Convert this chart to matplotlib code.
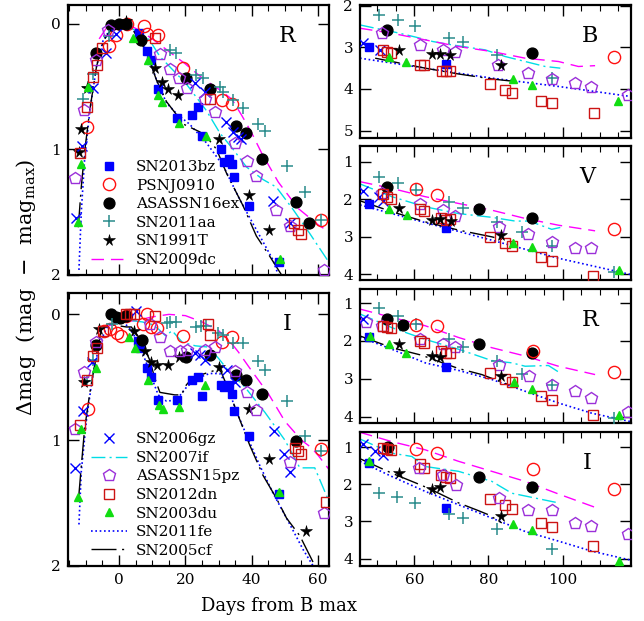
import matplotlib
matplotlib.use("Agg")
import matplotlib.pyplot as plt
from matplotlib.lines import Line2D
from matplotlib.ticker import MultipleLocator, NullLocator

plt.rcParams['font.family'] = ['DejaVu Serif']
plt.rcParams['mathtext.fontset'] = 'dejavuserif'

# ---------------- data: (days from B max, delta mag) ----------------
# left column, R band
R_early = {
    "SN2013bz": ([5.9, 8.4, 9.5, 11.8, 17.5, 22.0, 23.7, 25.1, 30.8, 31.7, 33.2, 34.1, 34.8, 39.3, 48.2],
                 [0.07, 0.22, 0.29, 0.52, 0.75, 0.73, 0.66, 0.89, 1.00, 1.10, 1.08, 1.12, 1.22, 1.45, 1.90]),
    "PSNJ0910": ([-9.6, -3.0, -0.8, 2.3, 7.6, 8.4, 11.7, 19.2, 30.9, 33.9, 61.0],
                 [0.82, 0.18, 0.09, 0.0, 0.02, 0.08, 0.09, 0.35, 0.61, 0.64, 1.56]),
    "ASASSN16ex": ([-7.1, -2.5, -0.1, 2.2, 6.7, 20.1, 27.5, 35.4, 38.4, 43.2, 53.3, 57.3],
                   [0.23, 0.01, 0.0, 0.0, 0.13, 0.43, 0.52, 0.81, 0.87, 1.08, 1.42, 1.59]),
    "SN2011aa": ([-11.0, -9.3, -8.0, -3.0, 15.3, 17.3, 23.3, 25.3, 30.4, 31.3, 34.4, 37.4, 41.9, 43.9, 50.7, 56.0, 61.0],
                 [0.60, 0.50, 0.40, 0.10, 0.21, 0.23, 0.41, 0.43, 0.50, 0.54, 0.61, 0.67, 0.80, 0.85, 1.13, 1.34, 1.56]),
    "SN1991T": ([-12.2, -11.5, -9.6, 2.0, 10.8, 13.0, 14.8, 17.8, 30.2, 39.2, 45.1],
                [1.02, 0.84, 0.51, -0.02, 0.35, 0.46, 0.52, 0.57, 0.92, 1.36, 1.64]),
    "SN2009dc": ([-6, -4, -2, 0, 3, 6, 10, 15, 20, 25, 30, 34, 37, 40, 43, 48, 54, 60, 63.5],
                 [0.12, 0.04, 0.01, 0.0, 0.01, 0.05, 0.12, 0.22, 0.32, 0.43, 0.52, 0.60, 0.73, 0.87, 1.03, 1.26, 1.47, 1.60, 1.66]),
    "SN2006gz": ([-13.1, -11.2, -8.0, -4.0, -1.0, 22.8, 25.8, 32.3, 34.4, 35.9, 36.9, 46.5, 51.4],
                 [1.55, 0.97, 0.51, 0.23, 0.08, 0.47, 0.54, 0.78, 0.86, 0.90, 0.92, 1.41, 1.59]),
    "SN2007if": ([4.0, 6.2, 9.2, 12.3, 20.3, 26.3, 30.4, 34.4, 38.4, 43.4, 47.4, 52.5, 57.5, 63.3],
                 [0.04, 0.07, 0.13, 0.26, 0.48, 0.69, 0.87, 1.00, 1.14, 1.24, 1.30, 1.48, 1.67, 1.90]),
    "ASASSN15pz": ([-13.4, -10.6, -7.0, -3.3, 12.3, 15.3, 18.0, 20.5, 26.0, 28.8, 35.1, 38.7, 41.4, 47.4, 51.5, 61.8],
                   [1.23, 0.69, 0.29, 0.05, 0.24, 0.36, 0.43, 0.51, 0.60, 0.70, 0.95, 1.09, 1.21, 1.48, 1.61, 1.96]),
    "SN2012dn": ([-11.7, -9.8, -7.8, -6.8, -5.1, 10.8, 27.3, 52.8, 53.8, 54.8],
                 [1.03, 0.66, 0.42, 0.33, 0.19, 0.11, 0.60, 1.59, 1.64, 1.67]),
    "SN2003du": ([-12.4, -11.4, -9.3, 4.2, 8.7, 11.8, 12.8, 18.1, 26.3, 48.4],
                 [1.58, 1.12, 0.50, 0.11, 0.29, 0.57, 0.62, 0.79, 0.89, 1.87]),
    "SN2011fe": ([-12.1, -11.4, -10.4, -8.8, -6.8, -4.8, -1.8, 1.2, 4.2, 8.2, 11.3, 14.3, 17.5, 21.3, 26.4, 31.4, 36.4, 41.4, 46.4, 48.0],
                 [1.96, 1.50, 1.08, 0.69, 0.34, 0.13, 0.01, 0.0, 0.04, 0.20, 0.45, 0.63, 0.72, 0.80, 0.95, 1.13, 1.40, 1.64, 1.88, 2.0]),
    "SN2005cf": ([-12.3, -11.4, -10.4, -8.8, -6.8, -4.8, -1.8, 1.2, 4.2, 8.2, 11.3, 14.3, 17.8, 19.5, 24.3, 26.4, 29.4, 32.4, 37.4, 41.4, 45.4, 49.0],
                 [1.62, 1.30, 1.02, 0.68, 0.34, 0.14, 0.02, 0.0, 0.05, 0.22, 0.45, 0.62, 0.74, 0.80, 0.86, 0.90, 1.00, 1.19, 1.45, 1.69, 1.85, 2.0]),
}

# left column, I band
I_early = {
    "SN2013bz": ([5.7, 6.2, 8.4, 9.5, 11.8, 17.5, 22.0, 23.7, 25.1, 30.8, 31.7, 33.2, 34.1, 34.8, 39.3, 48.2],
                 [0.21, 0.27, 0.43, 0.50, 0.68, 0.68, 0.52, 0.50, 0.65, 0.56, 0.58, 0.56, 0.63, 0.77, 0.97, 1.43]),
    "PSNJ0910": ([-9.5, -4.5, -2.8, -0.6, 0.5, 2.2, 7.2, 8.4, 9.6, 11.5, 19.2, 30.9, 33.9, 61.0],
                 [0.75, 0.13, 0.12, 0.15, 0.17, 0.01, 0.08, 0.0, 0.10, 0.11, 0.17, 0.22, 0.18, 1.07]),
    "ASASSN16ex": ([-7.1, -2.5, -0.8, 0.4, 2.2, 7.0, 20.1, 27.5, 35.4, 38.4, 43.2, 53.3],
                   [0.24, 0.0, 0.02, 0.03, 0.01, 0.20, 0.34, 0.32, 0.48, 0.52, 0.63, 1.01]),
    "SN2011aa": ([-9.8, -8.0, -2.0, 14.3, 15.3, 17.3, 23.3, 24.8, 26.3, 29.9, 31.4, 34.4, 37.4, 41.9, 43.9, 50.7, 56.0, 61.0],
                 [0.53, 0.36, 0.08, 0.07, 0.06, 0.06, 0.10, 0.09, 0.09, 0.15, 0.16, 0.23, 0.23, 0.37, 0.44, 0.69, 0.97, 1.09]),
    "SN1991T": ([-10.6, -6.0, 4.5, 7.7, 9.7, 11.3, 14.8, 18.0, 30.2, 39.2, 45.1, 56.3],
                [0.54, 0.12, 0.13, 0.29, 0.38, 0.40, 0.40, 0.34, 0.42, 0.75, 1.15, 1.72]),
    "SN2009dc": ([-4, 0, 5, 10, 15, 20, 25, 30, 33, 36, 40, 45, 50, 55, 58, 60, 63.5],
                 [0.10, 0.06, 0.05, 0.02, 0.0, 0.01, 0.06, 0.13, 0.20, 0.30, 0.45, 0.63, 0.85, 1.00, 1.06, 1.12, 1.24]),
    "SN2006gz": ([-13.4, -10.9, -8.3, 5.2, 22.8, 24.3, 25.8, 32.4, 35.1, 46.7, 49.6, 51.5],
                 [1.22, 0.77, 0.38, -0.03, 0.31, 0.32, 0.36, 0.44, 0.54, 0.93, 1.11, 1.25]),
    "SN2007if": ([4, 7, 10, 12, 14, 16, 19, 23, 27, 30, 33, 38, 44, 50, 54.5, 59, 63.5],
                 [0.05, 0.06, 0.08, 0.12, 0.17, 0.13, 0.22, 0.25, 0.26, 0.35, 0.45, 0.58, 0.78, 1.00, 1.22, 1.22, 1.50]),
    "ASASSN15pz": ([-13.4, -10.7, -7.0, 9.2, 12.3, 15.3, 18.3, 20.5, 26.0, 28.8, 35.1, 38.7, 41.4, 51.5, 61.8],
                   [0.91, 0.46, 0.22, 0.08, 0.18, 0.29, 0.29, 0.28, 0.28, 0.26, 0.45, 0.62, 0.76, 1.17, 1.58]),
    "SN2012dn": ([-11.7, -9.6, -7.8, -6.8, -4.8, 2.0, 3.2, 4.4, 10.8, 26.8, 27.3, 53.0, 54.0, 55.0, 62.5],
                 [0.88, 0.52, 0.33, 0.27, 0.13, 0.0, 0.0, 0.0, 0.01, 0.08, 0.16, 1.06, 1.09, 1.11, 1.49]),
    "SN2003du": ([-12.4, -11.4, -7.0, 2.9, 4.7, 8.7, 12.0, 13.1, 18.0, 26.0, 48.1],
                 [1.45, 0.91, 0.43, 0.18, 0.27, 0.52, 0.72, 0.75, 0.74, 0.56, 1.41]),
    "SN2011fe": ([-12.1, -11.4, -9.8, -7.8, -5.8, -3.8, -1.3, 1.2, 3.2, 6.2, 9.2, 11.8, 14.3, 17.3, 20.3, 23.3, 27.3, 30.4,
                  32.4, 35.4, 38.4, 42.4, 46.4, 50.5, 55.5, 58.5],
                 [1.67, 1.25, 0.83, 0.46, 0.23, 0.11, 0.03, 0.06, 0.11, 0.24, 0.46, 0.64, 0.69, 0.68, 0.58, 0.51, 0.47, 0.47,
                  0.56, 0.77, 0.96, 1.20, 1.42, 1.62, 1.87, 2.0]),
    "SN2005cf": ([-12.2, -11.4, -10.4, -8.8, -6.8, -5.3, -2.8, 2.2, 3.7, 6.2, 9.2, 10.8, 12.3, 16.8, 18.8, 20.3, 22.3, 28.3,
                  29.8, 30.8, 32.4, 35.4, 39.4, 43.4, 47.4, 50.5, 54.5, 58.5],
                 [1.46, 1.21, 0.91, 0.62, 0.32, 0.12, 0.08, 0.10, 0.10, 0.19, 0.36, 0.51, 0.62, 0.64, 0.64, 0.56, 0.50, 0.45,
                  0.43, 0.46, 0.56, 0.77, 1.04, 1.28, 1.46, 1.62, 1.76, 1.97]),
}

# right column, late phases
B_late = {
    "SN2011aa": ([50.3, 55.5, 60.2, 69.4, 73.2, 82.3, 97.1], [2.22, 2.34, 2.48, 2.78, 2.87, 3.19, 3.74]),
    "ASASSN16ex": ([52.7, 91.7], [2.59, 3.14]),
    "SN2007if": ([45.3, 50.0, 55.0, 60.2, 65.0, 70.1, 79.1, 84.5, 89.9, 95.3, 99.4],
                 [2.46, 2.55, 2.64, 2.75, 2.86, 2.94, 3.06, 3.22, 3.34, 3.46, 3.50]),
    "SN2009dc": ([45.3, 53.9, 62.9, 71.9, 80.9, 89.9, 98.9, 104.3, 108.8],
                 [2.54, 2.66, 2.82, 2.98, 3.10, 3.26, 3.34, 3.46, 3.44]),
    "ASASSN15pz": ([51.2, 61.4, 67.6, 71.0, 82.7, 90.8, 97.1, 103.4, 107.6, 117.6],
                   [2.66, 2.94, 3.06, 3.11, 3.42, 3.62, 3.76, 3.86, 3.96, 4.14]),
    "SN2013bz": ([47.8, 68.5], [2.99, 3.40]),
    "SN2006gz": ([46.2, 50.7], [2.90, 3.07]),
    "SN2012dn": ([51.4, 52.7, 53.6, 61.4, 62.6, 67.4, 68.6, 69.5, 80.5, 84.4, 86.4, 94.3, 97.2, 108.4],
                 [3.07, 3.10, 3.14, 3.42, 3.42, 3.56, 3.58, 3.58, 3.88, 4.02, 4.10, 4.29, 4.34, 4.58]),
    "SN1991T": ([55.9, 64.7, 66.8, 69.6, 83.3], [3.06, 3.16, 3.16, 3.19, 3.42]),
    "SN2003du": ([53.2, 57.7, 86.6, 91.7, 115.1], [3.23, 3.36, 3.76, 3.90, 4.30]),
    "PSNJ0910": ([113.8], [3.23]),
    "SN2011fe": ([45.3, 62.9, 80.9, 98.9, 118.3], [3.26, 3.50, 3.74, 3.94, 4.18]),
    "SN2005cf": ([49.4, 53.9, 62.9, 71.9, 80.9, 87.2], [3.26, 3.34, 3.50, 3.64, 3.76, 3.82]),
}

V_late = {
    "SN2011aa": ([50.3, 55.5, 60.4, 69.4, 73.2, 82.3, 89.0, 97.1, 113.8], [1.40, 1.56, 1.74, 2.06, 2.24, 2.60, 2.86, 3.24, 3.93]),
    "ASASSN16ex": ([52.7, 77.5, 91.7], [1.67, 2.26, 2.51]),
    "PSNJ0910": ([60.4, 66.2, 113.8], [1.73, 1.89, 2.80]),
    "SN2009dc": ([45.3, 53.9, 62.9, 71.9, 80.9, 89.9, 98.9, 108.8], [1.53, 1.71, 1.93, 2.11, 2.29, 2.51, 2.69, 2.84]),
    "SN2007if": ([45.3, 53.9, 62.9, 71.9, 80.9, 87.2, 91.0, 97.1, 99.4], [1.59, 1.93, 2.20, 2.38, 2.48, 2.58, 2.58, 2.80, 2.75]),
    "ASASSN15pz": ([51.2, 61.4, 67.6, 71.0, 82.9, 90.8, 97.1, 103.4, 107.6], [1.84, 2.13, 2.29, 2.45, 2.75, 2.93, 3.13, 3.31, 3.29]),
    "SN2006gz": ([46.2, 50.3, 51.4], [1.77, 1.95, 2.05]),
    "SN2013bz": ([47.8, 68.5], [2.13, 2.77]),
    "SN2012dn": ([51.6, 52.6, 53.6, 61.4, 62.6, 67.3, 68.6, 69.5, 80.5, 84.4, 86.4, 94.3, 97.2, 108.2],
                 [1.87, 1.95, 1.98, 2.27, 2.30, 2.51, 2.54, 2.53, 3.01, 3.16, 3.24, 3.55, 3.64, 4.03]),
    "SN1991T": ([55.9, 64.7, 66.8, 69.8, 83.4], [2.22, 2.54, 2.53, 2.57, 2.95]),
    "SN2003du": ([53.2, 57.9, 86.6, 91.7, 115.3], [2.27, 2.42, 3.16, 3.28, 3.88]),
    "SN2011fe": ([45.3, 62.9, 80.9, 98.9, 118.3], [2.15, 2.62, 3.09, 3.57, 4.00]),
    "SN2005cf": ([45.3, 53.9, 62.9, 71.9, 80.9, 85.0], [2.04, 2.33, 2.60, 2.82, 3.00, 3.10]),
}

R_late = {
    "SN2011aa": ([50.3, 55.5, 60.4, 69.4, 73.2, 82.3, 89.0, 97.1, 113.8], [1.13, 1.35, 1.56, 1.94, 2.15, 2.52, 2.87, 3.17, 4.03]),
    "ASASSN16ex": ([52.7, 56.8, 77.5, 91.7], [1.43, 1.59, 2.09, 2.33]),
    "PSNJ0910": ([60.4, 66.2, 91.9, 113.8], [1.58, 1.60, 2.27, 2.83]),
    "SN2009dc": ([45.3, 53.9, 62.9, 71.9, 80.9, 89.9, 98.9, 108.8], [1.16, 1.38, 1.60, 1.91, 2.18, 2.40, 2.67, 2.89]),
    "SN2007if": ([45.3, 53.9, 62.9, 71.9, 80.9, 86.3, 89.9, 96.2, 98.9], [1.29, 1.65, 1.96, 2.22, 2.52, 2.58, 2.67, 2.65, 2.82]),
    "ASASSN15pz": ([46.8, 51.2, 61.4, 67.6, 71.0, 82.9, 91.0, 97.1, 103.4, 107.6, 117.6],
                   [1.49, 1.60, 1.96, 2.09, 2.16, 2.64, 2.93, 3.17, 3.32, 3.51, 3.89]),
    "SN2006gz": ([46.2], [1.43]),
    "SN2013bz": ([47.8, 68.5], [1.91, 2.69]),
    "SN2012dn": ([51.4, 52.6, 53.6, 61.4, 62.6, 67.3, 68.6, 69.5, 80.5, 84.4, 86.4, 94.3, 97.2, 108.2],
                 [1.60, 1.63, 1.67, 2.00, 2.06, 2.27, 2.31, 2.33, 2.85, 3.00, 3.09, 3.45, 3.56, 3.95]),
    "SN1991T": ([55.9, 64.7, 66.8, 83.4], [2.07, 2.40, 2.43, 2.93]),
    "SN2003du": ([48.0, 53.2, 57.7, 87.0, 91.7, 115.3], [1.87, 2.09, 2.31, 3.09, 3.26, 3.95]),
    "SN2011fe": ([45.3, 53.9, 62.9, 71.9, 80.9, 89.9, 98.9, 107.9, 118.3], [1.90, 2.22, 2.58, 2.78, 3.02, 3.33, 3.64, 3.91, 4.13]),
    "SN2005cf": ([45.3, 53.9, 62.0, 65.6, 71.9, 78.2, 85.0], [1.87, 2.18, 2.38, 2.51, 2.73, 2.89, 3.14]),
}

I_late = {
    "SN2006gz": ([46.2, 49.4, 51.4], [0.91, 1.09, 1.22]),
    "ASASSN16ex": ([52.8, 77.5, 91.7], [1.00, 1.79, 2.06]),
    "SN2012dn": ([51.4, 52.6, 53.6, 61.6, 62.6, 67.3, 68.6, 69.5, 80.5, 84.4, 86.4, 94.3, 97.2, 108.2],
                 [1.03, 1.05, 1.07, 1.46, 1.55, 1.74, 1.81, 1.83, 2.40, 2.57, 2.67, 3.04, 3.16, 3.67]),
    "PSNJ0910": ([60.4, 66.2, 91.9, 113.8], [1.04, 1.16, 1.59, 2.12]),
    "SN2009dc": ([45.3, 53.9, 62.9, 71.9, 80.9, 89.9, 98.9, 108.8], [0.60, 0.85, 1.07, 1.38, 1.65, 1.92, 2.26, 2.62]),
    "SN2007if": ([45.3, 53.9, 59.3, 62.9, 71.9, 80.9, 86.3, 98.9], [0.78, 1.16, 1.25, 1.52, 1.65, 1.92, 2.24, 2.50]),
    "ASASSN15pz": ([61.3, 67.6, 71.2, 82.9, 90.8, 97.1, 103.4, 107.6, 117.6], [1.56, 1.74, 2.01, 2.37, 2.68, 2.68, 3.04, 3.13, 3.33]),
    "SN2013bz": ([47.8, 68.5], [1.43, 2.64]),
    "SN1991T": ([55.9, 64.7, 66.8, 83.4], [1.70, 2.12, 2.08, 2.86]),
    "SN2011aa": ([50.3, 55.2, 60.2, 69.4, 73.2, 82.3, 97.1], [2.24, 2.35, 2.50, 2.79, 2.91, 3.20, 3.73]),
    "SN2003du": ([47.6, 86.6, 91.7, 115.3], [1.37, 3.07, 3.24, 4.07]),
    "SN2011fe": ([45.3, 53.9, 62.9, 71.9, 80.9, 89.9, 98.9, 107.9, 118.3], [1.38, 1.79, 2.19, 2.55, 2.91, 3.27, 3.53, 3.80, 4.04]),
    "SN2005cf": ([45.3, 53.9, 62.0, 64.7, 71.9, 77.3, 80.0, 83.6], [1.31, 1.70, 2.03, 2.15, 2.50, 2.71, 2.82, 3.04]),
}

LEGEND_TOP = ["SN2013bz", "PSNJ0910", "ASASSN16ex", "SN2011aa", "SN1991T", "SN2009dc"]
LEGEND_BOT = ["SN2006gz", "SN2007if", "ASASSN15pz", "SN2012dn", "SN2003du", "SN2011fe", "SN2005cf"]

# ---------------- styles ----------------
BLUE = '#0000ff'
STYLE = {
    "SN2013bz": dict(ls='none', marker='s', ms=6.2, mfc=BLUE, mec=BLUE),
    "PSNJ0910": dict(ls='none', marker='o', ms=8.8, mfc='none', mec='#ff1010', mew=1.0),
    "ASASSN16ex": dict(ls='none', marker='o', ms=7.8, mfc='k', mec='k'),
    "SN2011aa": dict(ls='none', marker='+', ms=9, mec='#2a8c8c', mew=1.1),
    "SN1991T": dict(ls='none', marker='*', ms=8.5, mfc='k', mec='k', mew=0.4),
    "SN2009dc": dict(color='#ff00ff', lw=1.0, dashes=(9, 5)),
    "SN2006gz": dict(ls='none', marker='x', ms=7, mec=BLUE, mew=1.0),
    "SN2007if": dict(color='#00dde6', lw=1.0, dashes=(10, 3, 1.5, 3)),
    "ASASSN15pz": dict(ls='none', marker='p', ms=8.8, mfc='none', mec='#9b30d9', mew=1.0),
    "SN2012dn": dict(ls='none', marker='s', ms=6.8, mfc='none', mec='#cc1414', mew=1.0),
    "SN2003du": dict(ls='none', marker='^', ms=6.3, mfc='#11dd11', mec='#11dd11'),
    "SN2011fe": dict(color=BLUE, lw=1.2, dashes=(1, 1.6)),
    "SN2005cf": dict(color='k', lw=1.0, dashes=(18, 4, 1.5, 4)),
}
LINES = {"SN2009dc", "SN2007if", "SN2011fe", "SN2005cf"}


def draw(ax, data):
    for name, (t, m) in data.items():
        z = 2 if name in LINES else 3
        ax.plot(t, m, zorder=z, **STYLE[name])


def style_axes(ax, xlim, ylim, yticks, xmajor, show_x):
    ax.set_xlim(*xlim)
    ax.set_ylim(*ylim)
    ax.set_yticks(yticks)
    ax.xaxis.set_major_locator(MultipleLocator(xmajor))
    ax.xaxis.set_minor_locator(MultipleLocator(5))
    ax.yaxis.set_minor_locator(NullLocator())
    ax.tick_params(which='both', direction='in', top=True, right=True, labelsize=11)
    ax.tick_params(which='major', length=8, width=1.0, pad=5)
    ax.tick_params(which='minor', length=4.5, width=0.8)
    for s in ax.spines.values():
        s.set_linewidth(1.6)
    if not show_x:
        ax.tick_params(labelbottom=False)


def add_legend(ax, names):
    handles = [Line2D([], [], **STYLE[n]) for n in names]
    ax.legend(handles, names, loc='lower left', bbox_to_anchor=(0.09, 0.03), frameon=False,
              fontsize=11, handlelength=2.3, handletextpad=0.6, labelspacing=0.3,
              borderpad=0, borderaxespad=0)


fig = plt.figure(figsize=(6.44, 6.21), dpi=100)

ax_R = fig.add_axes([0.1056, 0.5572, 0.4053, 0.4348])
ax_I = fig.add_axes([0.1056, 0.0886, 0.4053, 0.4396])
ax_b = fig.add_axes([0.559, 0.7778, 0.4208, 0.2142])
ax_v = fig.add_axes([0.559, 0.5491, 0.4208, 0.2158])
ax_r = fig.add_axes([0.559, 0.3188, 0.4208, 0.2158])
ax_i = fig.add_axes([0.559, 0.0886, 0.4208, 0.2158])

draw(ax_R, R_early)
draw(ax_I, I_early)
draw(ax_b, B_late)
draw(ax_v, V_late)
draw(ax_r, R_late)
draw(ax_i, I_late)

style_axes(ax_R, (-15.4, 63.3), (2.0, -0.15), [0, 1, 2], 20, False)
style_axes(ax_I, (-15.4, 63.3), (2.0, -0.17), [0, 1, 2], 20, True)
style_axes(ax_b, (45.3, 118.5), (5.18, 1.98), [2, 3, 4, 5], 20, False)
style_axes(ax_v, (45.3, 118.5), (4.15, 0.58), [1, 2, 3, 4], 20, False)
style_axes(ax_r, (45.3, 118.5), (4.17, 0.63), [1, 2, 3, 4], 20, False)
style_axes(ax_i, (45.3, 118.5), (4.2, 0.59), [1, 2, 3, 4], 20, True)

add_legend(ax_R, LEGEND_TOP)
add_legend(ax_I, LEGEND_BOT)

for ax, band, x in [(ax_R, 'R', 0.84), (ax_I, 'I', 0.84), (ax_b, 'B', 0.85),
                    (ax_v, 'V', 0.84), (ax_r, 'R', 0.85), (ax_i, 'I', 0.84)]:
    y = 0.885 if ax in (ax_R, ax_I) else 0.77
    ax.text(x, y, band, transform=ax.transAxes, fontsize=16, ha='center', va='center')

fig.text(0.041, 0.538, 'Δmag  (mag  −  mag$_{\\rm max}$)', rotation=90, ha='center', va='center', fontsize=15)
fig.text(0.433, 0.024, 'Days from B max', ha='center', va='center', fontsize=13)

fig.savefig('out.png', dpi=100)
